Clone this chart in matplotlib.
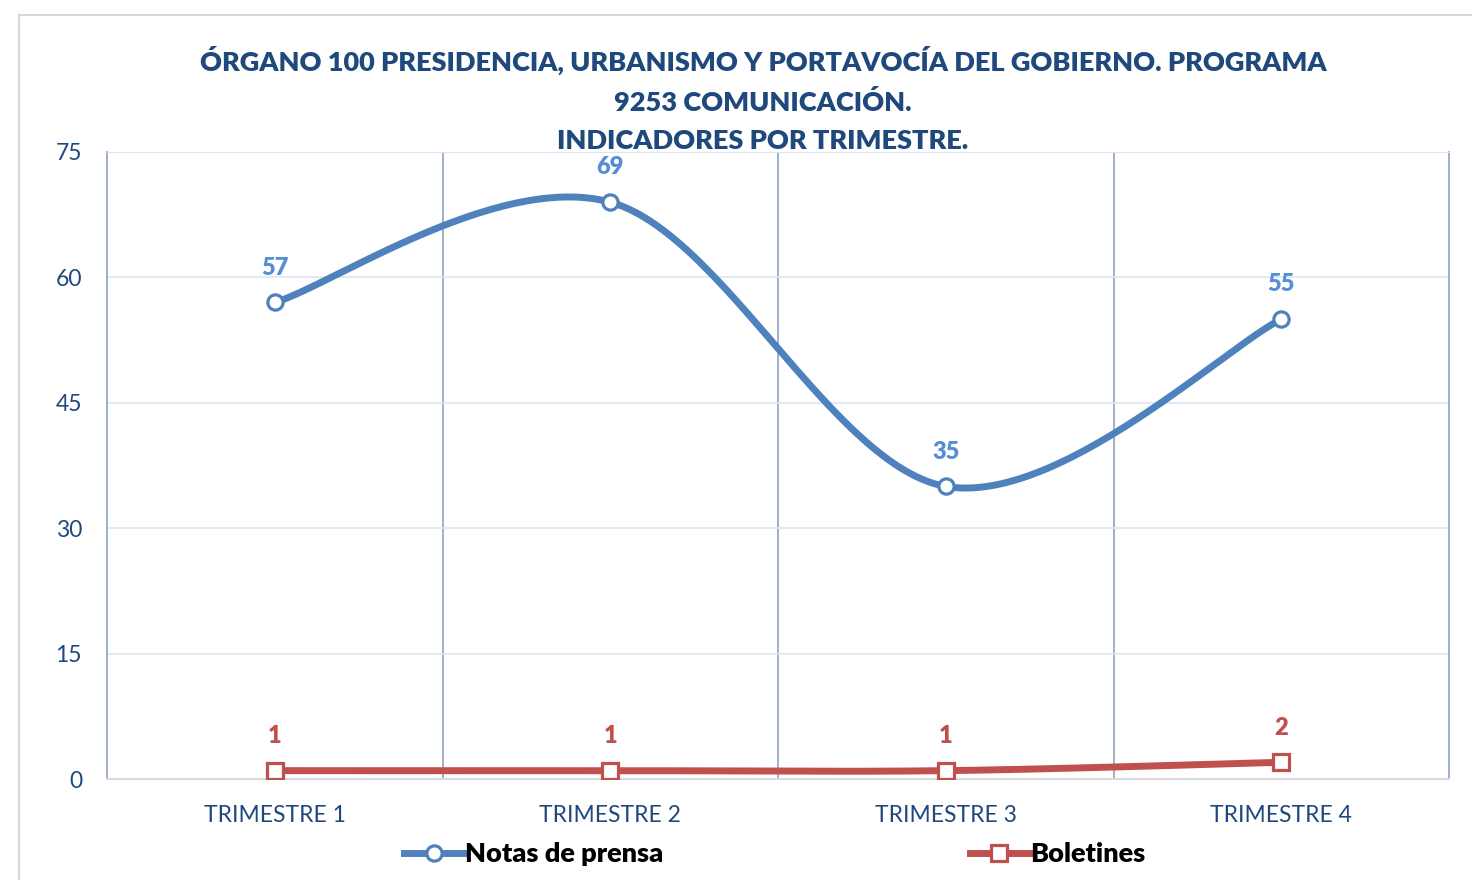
import numpy as np
import matplotlib.pyplot as plt
from matplotlib.patches import Rectangle
from matplotlib.lines import Line2D

plt.rcParams['font.family'] = ['Lato', 'DejaVu Sans']

categories = ['TRIMESTRE 1', 'TRIMESTRE 2', 'TRIMESTRE 3', 'TRIMESTRE 4']
notas = [57, 69, 35, 55]
boletines = [1, 1, 1, 2]
yticks = [0, 15, 30, 45, 60, 75]

title = ('ÓRGANO 100 PRESIDENCIA, URBANISMO Y PORTAVOCÍA DEL GOBIERNO. PROGRAMA\n'
         '9253 COMUNICACIÓN.\nINDICADORES POR TRIMESTRE.')

blue = '#4f81bd'
red = '#c0504d'
navy = '#1f497d'


def smooth(xs, ys, n=60):
    # excel-like bezier smoothing (catmull-rom control points)
    p = np.column_stack([xs, ys]).astype(float)
    pts = np.vstack([p[0], p, p[-1]])
    out = []
    for i in range(1, len(pts) - 2):
        p0, p1, p2, p3 = pts[i - 1], pts[i], pts[i + 1], pts[i + 2]
        c1 = p1 + (p2 - p0) / 6
        c2 = p2 - (p3 - p1) / 6
        t = np.linspace(0, 1, n)[:, None]
        seg = ((1 - t) ** 3 * p1 + 3 * (1 - t) ** 2 * t * c1
               + 3 * (1 - t) * t ** 2 * c2 + t ** 3 * p2)
        out.append(seg)
    out = np.vstack(out)
    return out[:, 0], out[:, 1]


fig = plt.figure(figsize=(14.72, 8.8), dpi=100)
ax = fig.add_axes([107 / 1472, 1 - 779 / 880, (1449 - 107) / 1472, (779 - 152) / 880])

fig.patches.append(Rectangle((19 / 1472, -0.05), 1.1, 1 - 15 / 880 + 0.05,
                             transform=fig.transFigure, fill=False,
                             edgecolor='#d9d9d9', linewidth=1.5))

x = np.arange(len(categories))
lw = 5.0

sx, sy = smooth(x, notas)
ax.plot(sx, sy, color=blue, lw=lw, solid_capstyle='round', zorder=3)
ax.plot(x, notas, ls='none', marker='o', ms=11, mfc='white', mec=blue, mew=2.3, zorder=4)
sx, sy = smooth(x, boletines)
ax.plot(sx, sy, color=red, lw=lw, zorder=3)
ax.plot(x, boletines, ls='none', marker='s', ms=11, mfc='white', mec=red, mew=2.3, zorder=4)

for xi, v in zip(x, notas):
    ax.annotate(str(v), (xi, v), xytext=(0, 25), textcoords='offset points',
                ha='center', va='center', color='#558ed5', fontsize=17, fontweight='heavy')
for xi, v in zip(x, boletines):
    ax.annotate(str(v), (xi, v), xytext=(0, 25), textcoords='offset points',
                ha='center', va='center', color=red, fontsize=17, fontweight='heavy')

ax.set_xlim(-0.5, 3.5)
ax.set_ylim(0, 75)
ax.set_yticks(yticks)
ax.set_xticks(x)
ax.set_xticklabels(categories)
ax.tick_params(axis='both', length=0, labelsize=16.5, labelcolor=navy)
ax.tick_params(axis='x', pad=19)
ax.tick_params(axis='y', pad=18)

ax.grid(axis='y', color='#dce6f2', lw=1.2)
for b in [0.5, 1.5, 2.5]:
    ax.axvline(b, color='#95a9c6', lw=1.3, zorder=1)
for side in ['left', 'right']:
    ax.spines[side].set_color('#95a9c6')
    ax.spines[side].set_linewidth(1.3)
ax.spines['top'].set_color('#dce6f2')
ax.spines['bottom'].set_color('#d9d9d9')
ax.spines['bottom'].set_linewidth(1.5)

fig.text(763 / 1472, 1 - 46 / 880, title, ha='center', va='top', fontsize=19.5,
         fontweight='heavy', color=navy, linespacing=1.69)

h1 = Line2D([], [], color=blue, lw=lw, marker='o', ms=11, mfc='white', mec=blue, mew=2.3)
h2 = Line2D([], [], color=red, lw=lw, marker='s', ms=11, mfc='white', mec=red, mew=2.3)
leg = fig.legend([h1, h2], ['Notas de prensa', 'Boletines'], loc='center',
                 bbox_to_anchor=(775 / 1472, 1 - 854 / 880), ncol=2, frameon=False,
                 prop={'size': 19.5, 'weight': 'heavy'}, handlelength=2.2,
                 handletextpad=0.05, columnspacing=11.3)

fig.savefig('out.png', dpi=100)
